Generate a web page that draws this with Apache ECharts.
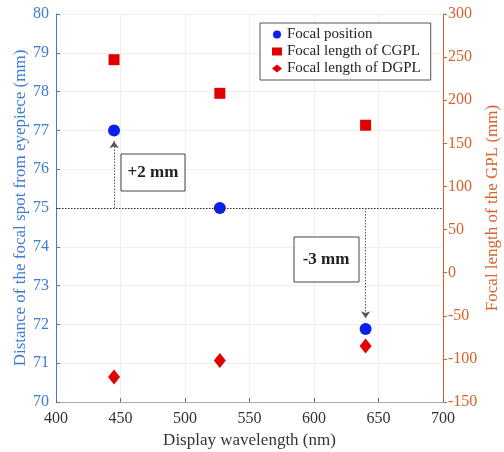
<!DOCTYPE html>
<html><head><meta charset="utf-8">
<script src="https://cdn.jsdelivr.net/npm/echarts@6/dist/echarts.min.js"></script>
<style>html,body{margin:0;padding:0;background:#fff}#c{width:504px;height:452px}</style>
</head><body><div id="c"></div>
<script>
const wavelengths = [445, 527, 640];
const focalPosition = [77.0, 75.0, 71.88];
const focalCGPL = [247, 208, 171];
const focalDGPL = [-121, -102, -85];
const xTicks = {min: 400, max: 700, interval: 50};
const leftTicks = {min: 70, max: 80, interval: 1};
const rightTicks = {min: -150, max: 300, interval: 50};
const reference = 75;

const blue = '#3d7bd6', orange = '#d9622b';
const font = 'Liberation Serif';
const chart = echarts.init(document.getElementById('c'));
const pair = (xs, ys) => xs.map((x, i) => [x, ys[i]]);
chart.setOption({
  animation: false,
  textStyle: {fontFamily: font},
  grid: {left: 56, right: 61, top: 14, bottom: 50, containLabel: false, outerBoundsMode: 'none'},
  legend: {
    orient: 'vertical', left: 260, top: 23, padding: [4, 10, 4, 12],
    borderColor: '#555', borderWidth: 1, itemGap: 2, itemWidth: 10, itemHeight: 8,
    backgroundColor: '#fff',
    textStyle: {fontFamily: font, fontSize: 15, color: '#222'},
    data: [
      {name: 'Focal position', icon: 'circle'},
      {name: 'Focal length of CGPL', icon: 'rect'},
      {name: 'Focal length of DGPL', icon: 'diamond'}
    ]
  },
  xAxis: {
    type: 'value', min: xTicks.min, max: xTicks.max, interval: xTicks.interval,
    name: 'Display wavelength (nm)', nameLocation: 'middle', nameGap: 29,
    nameTextStyle: {fontFamily: font, fontSize: 17, color: '#333'},
    axisLine: {onZero: false, lineStyle: {color: '#aaa'}},
    axisTick: {inside: true, length: 4, lineStyle: {color: '#666'}},
    axisLabel: {fontFamily: font, fontSize: 16, color: '#333', margin: 9},
    splitLine: {show: true, lineStyle: {color: '#efefef'}}
  },
  yAxis: [{
    type: 'value', min: leftTicks.min, max: leftTicks.max, interval: leftTicks.interval,
    name: 'Distance of the focal spot from eyepiece (mm)', nameLocation: 'middle', nameGap: 27,
    nameMoveOverlap: false,
    nameTextStyle: {fontFamily: font, fontSize: 17, color: blue},
    axisLine: {show: true, onZero: false, lineStyle: {color: blue}},
    axisTick: {show: true, inside: true, length: 4, lineStyle: {color: blue}},
    axisLabel: {fontFamily: font, fontSize: 16, color: blue, margin: 7},
    splitLine: {show: true, lineStyle: {color: '#efefef'}}
  }, {
    type: 'value', min: rightTicks.min, max: rightTicks.max, interval: rightTicks.interval,
    name: 'Focal length of the GPL (mm)', nameLocation: 'middle', nameGap: 41, nameRotate: 90,
    nameMoveOverlap: false,
    nameTextStyle: {fontFamily: font, fontSize: 17, color: orange},
    axisLine: {show: true, onZero: false, lineStyle: {color: orange}},
    axisTick: {show: true, inside: false, length: 4, lineStyle: {color: orange}},
    axisLabel: {fontFamily: font, fontSize: 16, color: orange, margin: 5},
    splitLine: {show: false}
  }],
  series: [
    {
      name: 'Focal position', type: 'scatter', yAxisIndex: 0, symbol: 'circle', symbolSize: 12,
      itemStyle: {color: '#0a1ff0', opacity: 1},
      data: pair(wavelengths, focalPosition),
      markLine: {
        silent: true, symbol: 'none', label: {show: false},
        lineStyle: {color: '#333', type: [1.5, 1.5], width: 1},
        data: [{yAxis: reference}]
      },
      z: 3
    },
    {
      name: 'Focal length of CGPL', type: 'scatter', yAxisIndex: 1, symbol: 'rect', symbolSize: 11,
      itemStyle: {color: '#e00000', opacity: 1},
      data: pair(wavelengths, focalCGPL)
    },
    {
      name: 'Focal length of DGPL', type: 'scatter', yAxisIndex: 1, symbol: 'diamond', symbolSize: [12, 15],
      itemStyle: {color: '#e00000', opacity: 1},
      data: pair(wavelengths, focalDGPL)
    },
    {
      type: 'line', yAxisIndex: 0, data: [], silent: true,
      markLine: {
        silent: true, symbol: ['none', 'arrow'], symbolSize: [7, 7], label: {show: false},
        lineStyle: {color: '#555', type: [1.5, 1.5], width: 1},
        data: [
          [{coord: [wavelengths[0], reference]}, {coord: [wavelengths[0], focalPosition[0] - 0.28]}],
          [{coord: [wavelengths[2], reference]}, {coord: [wavelengths[2], focalPosition[2] + 0.28]}]
        ]
      }
    }
  ],
  graphic: [
    {type: 'rect', z: 100, shape: {x: 121, y: 154, width: 64, height: 37}, style: {fill: '#fff', stroke: '#444', lineWidth: 1}},
    {type: 'text', z: 101, x: 153, y: 173, style: {text: '+2 mm', align: 'center', verticalAlign: 'middle', font: 'bold 17px "Liberation Serif"', fill: '#222'}},
    {type: 'rect', z: 100, shape: {x: 294, y: 237, width: 65, height: 45}, style: {fill: '#fff', stroke: '#444', lineWidth: 1}},
    {type: 'text', z: 101, x: 326, y: 260, style: {text: '-3 mm', align: 'center', verticalAlign: 'middle', font: 'bold 17px "Liberation Serif"', fill: '#222'}}
  ]
});
</script></body></html>
